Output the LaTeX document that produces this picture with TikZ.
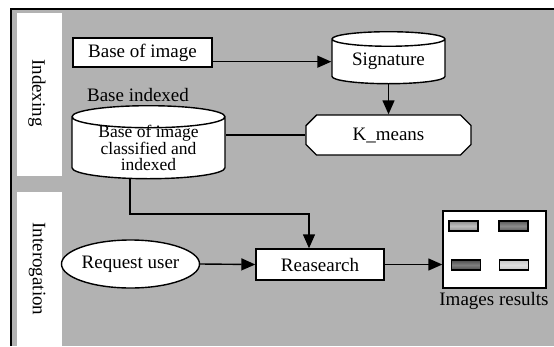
\documentclass[tikz,border=0pt]{standalone}
\usepackage{fontspec}
\setmainfont{Liberation Serif}
\usetikzlibrary{shapes.geometric,shapes.misc,arrows.meta,positioning}

\begin{document}
\begin{tikzpicture}[x=1pt,y=-1pt,
        every node/.style={font=\fontsize{19}{14}\selectfont},
        box/.style={draw,fill=white,line width=1.4pt,inner sep=0pt},
        base/.style={box,cylinder,shape border rotate=90,aspect=0.2,anchor=north},
        arr/.style={line width=1.4pt,-{Triangle[length=14pt,width=12pt]}},
        lnk/.style={line width=1.4pt},
        bar/.style={draw,line width=1.2pt,minimum width=29pt,minimum height=10pt,inner sep=0pt}]
        \useasboundingbox (0,0) rectangle (554,346);

        % background and lanes
        \fill[black!30] (11,9) rectangle (554,346);
        \draw[line width=1.4pt] (11,346) -- (11,9) -- (554,9);
        \fill[white] (17,13) rectangle (62,176);
        \fill[white] (17,192) rectangle (62,346);
        \node[rotate=-90] (idx) at (37,93) {Indexing};
        \node[rotate=-90] (itg) at (37,269) {Interogation};

        % indexing
        \node[box,minimum width=139pt,minimum height=29pt] (img) at (142.5,52.5) {Base of image};
        \node[base,minimum width=113pt,minimum height=52pt] (sig) at (388.5,31) {Signature};
        \node[box,chamfered rectangle,chamfered rectangle xsep=12pt,
            minimum width=165pt,minimum height=40pt] (km) at (388.5,135) {K\_means};
        \node[base,aspect=0.22,inner ysep=-5pt,minimum width=153pt,minimum height=73pt,align=center,
            font=\fontsize{17.5}{15.5}\selectfont] (bi) at (148.5,105)
            {Base of image\\classified and\\indexed};
        \node (bil) at (138,95) {Base indexed};

        % interogation
        \node[box,ellipse,minimum width=135pt,minimum height=48pt] (req) at (130.5,264) {Request user};
        \node[box,minimum width=128pt,minimum height=31pt] (res) at (320,264.5) {Reasearch};
        \node[box,minimum width=103pt,minimum height=77pt] (out) at (494.5,249.5) {};
        \node (outl) at (494,301) {Images results};
        \node[bar,top color=black!45,bottom color=black!45,middle color=black!25] (b1) at (463.5,226) {};
        \node[bar,top color=black!65,bottom color=black!65,middle color=black!45] (b2) at (513.5,226) {};
        \node[bar,top color=black!70,bottom color=black!70,middle color=black!50] (b3) at (466,265) {};
        \node[bar,top color=black!22,bottom color=black!22,middle color=black!12] (b4) at (514,265) {};

        \draw[arr] (img.east |- sig.west) -- (sig.west);
        \draw[arr] (sig.south) -- (sig.south |- km.north);
        \draw[lnk] (km.west) -- (km.west -| bi.east);
        \coordinate (bend) at (130,214);
        \draw[arr] (bi.south -| bend) -- (bend) -| ([xshift=-11pt]res.north);
        \draw[arr] (req.east) -- (res.west);
        \draw[arr] (res.east) -- (res.east -| out.west);
    \end{tikzpicture}
\end{document}
